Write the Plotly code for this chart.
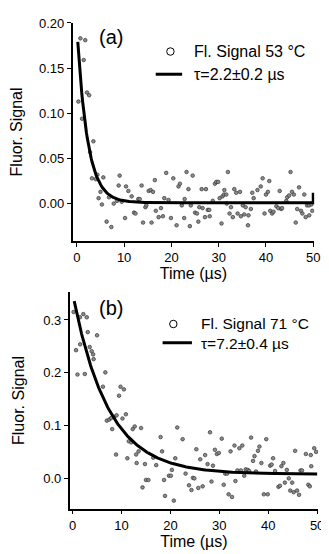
import numpy as np
import plotly.graph_objects as go

# ---------------- data ----------------
time_a = [0.33, 0.75, 1.1, 1.45, 1.78, 2.14, 2.6, 2.8, 3.2, 3.5, 4.0, 4.35, 4.6, 5.0, 5.3, 5.6,
          6.3, 6.8, 7.3, 7.8, 8.5, 8.85, 9.05, 9.5, 10.2, 10.4, 10.9, 11.6, 12.1, 12.4, 13.0,
          13.3, 13.7, 14.0, 14.5, 14.7, 15.2, 15.6, 15.8, 16.1, 16.5, 16.7, 17.3, 17.8, 18.2,
          18.5, 18.9, 19.4, 19.9, 20.4, 21.1, 21.5, 21.8, 22.2, 22.7, 22.8, 23.2, 23.6, 23.9,
          24.1, 24.5, 25.0, 25.4, 25.7, 25.9, 26.4, 26.6, 27.1, 27.3, 27.7, 28.0, 28.1, 28.75,
          29.2, 29.5, 29.9, 30.2, 30.6, 30.8, 31.1, 31.2, 31.6, 31.7, 31.95, 32.3, 32.6, 33.0,
          33.3, 33.7, 34.0, 34.5, 34.7, 35.1, 35.4, 35.7, 36.2, 36.3, 36.8, 37.1, 37.4, 38.2,
          38.9, 39.3, 39.7, 40.0, 40.4, 40.7, 40.9, 41.3, 41.6, 42.2, 42.6, 42.9, 43.2, 43.4,
          44.3, 44.5, 44.9, 45.2, 45.5, 45.9, 46.3, 46.6, 47.0, 47.4, 47.7, 48.1, 48.4, 48.7,
          49.1, 49.15, 49.6, 49.8]
signal_a = [0.113, 0.183, 0.094, 0.159, 0.181, 0.123, 0.120, 0.057, 0.028, 0.069, 0.027, 0.032,
            0.006, 0.013, -0.001, 0.029, -0.020, 0.007, -0.026, 0.000, 0.003, 0.020, 0.031, 0.002,
            -0.016, 0.019, 0.014, 0.008, -0.010, -0.011, 0.005, 0.005, 0.020, -0.021, -0.004,
            -0.002, 0.014, 0.015, -0.021, 0.013, 0.026, -0.008, -0.015, -0.005, -0.014, 0.006,
            0.034, 0.004, -0.016, 0.028, -0.024, 0.019, 0.022, -0.002, -0.016, 0.005, 0.035,
            0.016, -0.025, -0.002, 0.031, -0.010, -0.011, -0.020, -0.004, 0.016, -0.005, -0.015,
            0.016, -0.007, -0.007, -0.014, 0.003, 0.022, 0.024, 0.024, 0.006, -0.022, 0.008,
            0.010, 0.015, 0.010, 0.000, 0.035, -0.011, -0.004, -0.015, 0.016, 0.012, -0.011,
            0.013, -0.014, -0.002, -0.012, -0.004, -0.024, -0.013, -0.006, 0.012, 0.006, 0.015,
            0.019, 0.028, -0.011, 0.010, 0.013, 0.025, -0.008, -0.011, -0.009, -0.003, -0.005,
            0.014, -0.006, -0.005, 0.003, 0.007, 0.009, 0.035, 0.013, 0.010, -0.021, -0.006,
            0.018, -0.008, -0.011, 0.010, -0.015, -0.002, -0.002, -0.013, -0.001, -0.008]

time_b = [0.2, 0.7, 1.0, 1.5, 1.55, 2.2, 2.5, 2.9, 3.1, 3.5, 3.9, 4.2, 4.3, 5.0, 6.2, 6.7, 7.0,
          7.5, 7.9, 8.1, 8.5, 8.9, 9.0, 9.5, 9.8, 10.2, 10.5, 10.9, 11.2, 11.5, 12.0, 12.3, 12.7,
          13.0, 13.1, 13.5, 14.0, 14.3, 14.8, 15.0, 15.5, 16.5, 17.1, 18.0, 18.3, 18.7, 18.9,
          19.7, 20.1, 20.3, 20.7, 21.0, 21.4, 22.5, 23.1, 23.8, 24.3, 24.6, 24.9, 25.3, 25.7,
          26.1, 26.6, 27.1, 27.6, 28.1, 28.4, 28.7, 29.1, 29.5, 29.9, 30.5, 30.9, 31.2, 31.6,
          31.9, 32.3, 32.6, 33.1, 33.3, 33.7, 34.1, 34.4, 34.7, 35.1, 35.4, 35.8, 36.1, 36.5,
          36.9, 37.2, 37.5, 37.9, 38.2, 38.6, 39.1, 39.6, 39.9, 40.4, 40.7, 41.0, 41.4, 42.1,
          42.4, 42.7, 43.1, 43.4, 43.8, 44.2, 44.5, 44.9, 45.2, 45.5, 45.9, 46.3, 46.6, 46.9,
          47.7, 48.2, 48.5, 48.7, 48.8, 49.4, 49.8]
signal_b = [0.315, 0.243, 0.197, 0.305, 0.254, 0.311, 0.198, 0.305, 0.277, 0.249, 0.241, 0.235,
            0.226, 0.271, 0.174, 0.201, 0.110, 0.112, 0.115, 0.094, 0.117, 0.046, 0.120, 0.157,
            0.174, 0.114, 0.169, 0.122, 0.039, 0.071, 0.069, 0.094, 0.099, 0.046, 0.030, 0.052,
            0.096, -0.016, 0.028, -0.002, -0.002, 0.040, 0.026, 0.079, 0.052, -0.002, -0.032,
            0.006, 0.006, 0.017, -0.041, 0.039, 0.097, 0.075, 0.010, -0.012, -0.021, 0.002,
            0.001, 0.056, -0.017, 0.037, -0.014, 0.045, 0.028, 0.088, -0.005, 0.025, 0.055,
            0.047, 0.049, 0.076, -0.011, 0.010, 0.010, -0.029, 0.052, -0.034, 0.063, -0.004,
            0.016, 0.058, 0.016, 0.063, 0.006, 0.018, 0.017, 0.015, 0.078, 0.034, 0.043, 0.014,
            0.053, 0.061, 0.030, -0.029, 0.075, -0.029, 0.025, 0.027, 0.039, 0.015, -0.015,
            -0.013, 0.024, 0.030, -0.007, 0.017, 0.001, -0.022, -0.007, -0.025, 0.053, -0.022,
            -0.030, 0.016, 0.016, 0.047, -0.011, -0.014, 0.045, 0.024, 0.058, 0.051]

# exponential fit parameters (amplitude, tau in µs, offset, first fitted time)
fit_a = dict(amp=0.195, tau=2.2, offset=0.001, t0=0.2, end_value=0.012)
fit_b = dict(amp=0.342, tau=7.2, offset=0.009, t0=0.33)

legend_a = ["Fl. Signal 53 °C", "τ=2.2±0.2 µs"]
legend_b = ["Fl. Signal 71 °C", "τ=7.2±0.4 µs"]
panel_labels = ["(a)", "(b)"]
x_ticks = [0, 10, 20, 30, 40, 50]
y_ticks_a = [0.00, 0.05, 0.10, 0.15, 0.20]
y_ticks_b = [0.0, 0.1, 0.2, 0.3]

# ---------------- figure ----------------
# the page body keeps its default 8 px margin, so the figure starts at (8, 8)
OFF = 8
W, H = 329 - OFF, 554 - OFF
FONT = "Liberation Sans, Arial, Helvetica, sans-serif"


def px(x):
    return (x - OFF) / W


def py(y):
    return 1 - (y - OFF) / H


fa_t = np.linspace(fit_a["t0"], 50, 300)
fa_y = fit_a["amp"] * np.exp(-fa_t / fit_a["tau"]) + fit_a["offset"]
fa_t = np.append(fa_t, 50)
fa_y = np.append(fa_y, fit_a["end_value"])
fb_t = np.linspace(fit_b["t0"], 50, 300)
fb_y = fit_b["amp"] * np.exp(-fb_t / fit_b["tau"]) + fit_b["offset"]

marker = dict(symbol="circle", size=3.6, color="#8c8c8c", line=dict(color="#333333", width=0.7))

fig = go.Figure()
fig.add_trace(go.Scatter(x=time_a, y=signal_a, mode="markers", marker=marker,
                         name=legend_a[0], xaxis="x", yaxis="y", showlegend=False))
fig.add_trace(go.Scatter(x=fa_t, y=fa_y, mode="lines", line=dict(color="black", width=3),
                         name=legend_a[1], xaxis="x", yaxis="y", showlegend=False))
fig.add_trace(go.Scatter(x=time_b, y=signal_b, mode="markers", marker=marker,
                         name=legend_b[0], xaxis="x2", yaxis="y2", showlegend=False))
fig.add_trace(go.Scatter(x=fb_t, y=fb_y, mode="lines", line=dict(color="black", width=3),
                         name=legend_b[1], xaxis="x2", yaxis="y2", showlegend=False))

axis_common = dict(showline=True, linecolor="black", linewidth=1.5, ticks="outside",
                   ticklen=4, tickwidth=1.2, tickcolor="black", showgrid=False, zeroline=False,
                   tickfont=dict(size=13, color="black", family=FONT))
title_font = dict(size=16, color="black", family=FONT)

fig.update_layout(
    width=W, height=H, margin=dict(l=0, r=0, t=0, b=0),
    paper_bgcolor="white", plot_bgcolor="white",
    font=dict(family=FONT, color="black"),
    xaxis=dict(domain=[px(73), px(320)], range=[-0.9, 50.2], anchor="y",
               tickvals=x_ticks, title=dict(text="Time (µs)", font=title_font, standoff=2),
               **axis_common),
    yaxis=dict(domain=[py(237), py(16)], range=[-0.0415, 0.2001], anchor="x",
               tickvals=y_ticks_a, tickformat=".2f",
               title=dict(text="Fluor. Signal", font=title_font), **axis_common),
    xaxis2=dict(domain=[px(70), px(324)], range=[-0.6, 50.2], anchor="y2",
                tickvals=x_ticks, title=dict(text="Time (µs)", font=title_font, standoff=2),
                **axis_common),
    yaxis2=dict(domain=[py(508), py(289)], range=[-0.056, 0.352], anchor="x2",
                tickvals=y_ticks_b, tickformat=".1f",
                title=dict(text="Fluor. Signal", font=title_font), **axis_common),
)

annotations = []
shapes = []


def legend_symbols(circ, line_x, line_y):
    cx, cy = circ
    r = 3.8
    shapes.append(dict(type="circle", xref="paper", yref="paper",
                       x0=px(cx - r), x1=px(cx + r), y0=py(cy + r), y1=py(cy - r),
                       line=dict(color="black", width=1), fillcolor="white"))
    shapes.append(dict(type="line", xref="paper", yref="paper",
                       x0=px(line_x[0]), x1=px(line_x[1]), y0=py(line_y), y1=py(line_y),
                       line=dict(color="black", width=3)))


def legend_text(text, x, y, size):
    annotations.append(dict(text=text, xref="paper", yref="paper", x=px(x), y=py(y),
                            xanchor="left", yanchor="middle", align="left", showarrow=False,
                            font=dict(size=size, color="black", family=FONT)))


# legend (a): two separate rows, widely spaced
legend_symbols((173, 45), (158, 185), 68)
legend_text(legend_a[0], 195, 45, 16)
legend_text(legend_a[1], 195, 68, 16)

# legend (b): two tight rows in one text block
legend_symbols((176, 321), (165, 195), 340)
legend_text(legend_b[0] + "<br>" + legend_b[1], 202, 330.5, 15.5)

for lab, (x, y) in zip(panel_labels, [(112, 30), (112, 305)]):
    annotations.append(dict(text=lab, xref="paper", yref="paper", x=px(x), y=py(y),
                            xanchor="center", yanchor="middle", showarrow=False,
                            font=dict(size=20, color="black", family=FONT)))

fig.update_layout(annotations=annotations, shapes=shapes)
fig.write_html("out.html")
